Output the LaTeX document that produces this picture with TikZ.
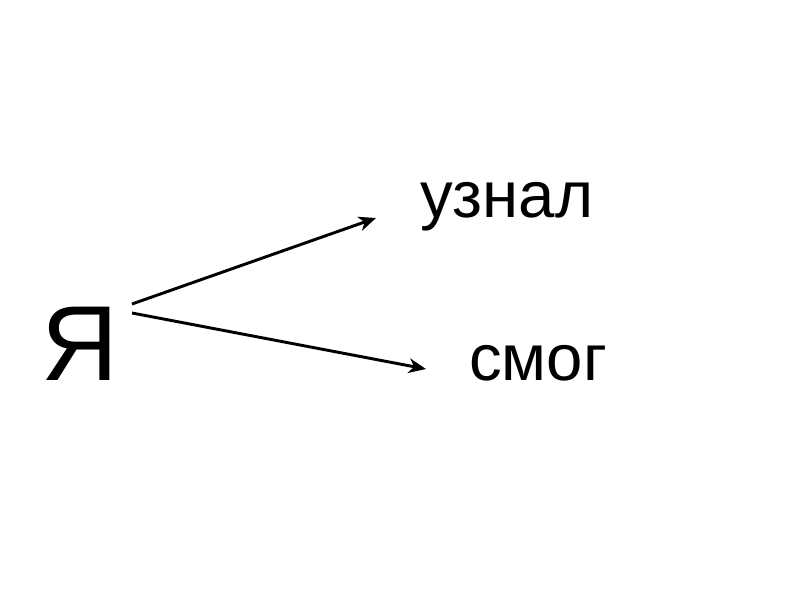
\documentclass[tikz,border=0pt]{standalone}
\usepackage{fontspec}
\setmainfont{Liberation Sans}
\usetikzlibrary{arrows.meta}
\begin{document}
\begin{tikzpicture}[x=0.75pt,y=-0.75pt,
  word/.style={inner sep=0pt,anchor=base west,font=\fontsize{49}{56}\selectfont},
  big/.style={inner sep=0pt,anchor=base west,font=\fontsize{80}{90}\selectfont},
  arr/.style={line width=2.2pt,-{Stealth[length=13pt,width=11pt,inset=4pt]}}]
\useasboundingbox (0,0) rectangle (800,600);
\node[big] (ya) at (41,380) {Я};
\node[word] (uz) at (420,217) {узнал};
\node[word] (sm) at (469,380) {смог};
\coordinate (s1) at (132,304);
\coordinate (s2) at (132,313);
\coordinate (e1) at (376,218);
\coordinate (e2) at (426,369);
\draw[arr] (s1) -- (e1);
\draw[arr] (s2) -- (e2);
\end{tikzpicture}
\end{document}
